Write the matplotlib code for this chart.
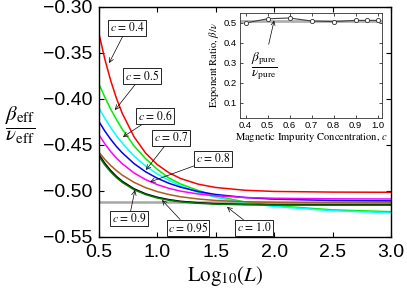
import matplotlib
matplotlib.use("Agg")
import matplotlib.pyplot as plt

plt.rcParams['mathtext.fontset'] = 'stix'
plt.rcParams['font.family'] = 'Liberation Sans'

# effective exponent ratio vs Log10(L) for each concentration c
log_L = [0.5, 0.55, 0.6, 0.65, 0.7, 0.8, 0.9, 1.0, 1.1, 1.2, 1.35, 1.5, 1.75, 2.0, 2.5, 3.0]
ratio_c040 = [-0.3290, -0.3567, -0.3799, -0.3994, -0.4158, -0.4411, -0.4589, -0.4714,
              -0.4803, -0.4865, -0.4926, -0.4962, -0.4992, -0.5005, -0.5012, -0.5014]
ratio_c050 = [-0.3840, -0.3980, -0.4110, -0.4225, -0.4330, -0.4510, -0.4650, -0.4765,
              -0.4860, -0.4925, -0.4995, -0.5055, -0.5120, -0.5160, -0.5205, -0.5225]
ratio_c060 = [-0.4100, -0.4210, -0.4310, -0.4400, -0.4480, -0.4620, -0.4730, -0.4815,
              -0.4885, -0.4945, -0.5015, -0.5070, -0.5130, -0.5168, -0.5215, -0.5236]
ratio_c070 = [-0.4247, -0.4348, -0.4438, -0.4517, -0.4586, -0.4702, -0.4792, -0.4862,
              -0.4917, -0.4959, -0.5006, -0.5038, -0.5071, -0.5089, -0.5103, -0.5107]
ratio_c080 = [-0.4390, -0.4487, -0.4571, -0.4643, -0.4704, -0.4804, -0.4877, -0.4931,
              -0.4972, -0.5002, -0.5033, -0.5052, -0.5071, -0.5079, -0.5085, -0.5087]
ratio_c090 = [-0.4580, -0.4657, -0.4723, -0.4779, -0.4828, -0.4906, -0.4964, -0.5007,
              -0.5039, -0.5063, -0.5087, -0.5103, -0.5117, -0.5124, -0.5129, -0.5130]
ratio_c095 = [-0.4605, -0.4699, -0.4777, -0.4842, -0.4895, -0.4976, -0.5031, -0.5068,
              -0.5094, -0.5112, -0.5128, -0.5138, -0.5145, -0.5148, -0.5150, -0.5150]
ratio_c100 = [-0.4625, -0.4717, -0.4793, -0.4855, -0.4907, -0.4986, -0.5039, -0.5076,
              -0.5101, -0.5118, -0.5134, -0.5143, -0.5150, -0.5153, -0.5155, -0.5155]
pure_ratio = -0.512

# inset: exponent ratio vs concentration
conc = [0.4, 0.5, 0.6, 0.7, 0.8, 0.9, 0.95, 1.0]
ratio_vs_conc = [0.500, 0.521, 0.525, 0.510, 0.507, 0.513, 0.513, 0.513]
pure_ratio_inset = 0.510

curves = [ratio_c040, ratio_c050, ratio_c060, ratio_c070,
          ratio_c080, ratio_c090, ratio_c095, ratio_c100]
colors = ['#ff0000', '#00ee00', '#00ffff', '#0000ff', '#ff00ff', '#b05a1e', '#000000', '#007a00']
c_labels = ['0.4', '0.5', '0.6', '0.7', '0.8', '0.9', '0.95', '1.0']

fig = plt.figure(figsize=(4.07, 2.91), dpi=100)
ax = fig.add_axes([0.2432, 0.1856, 0.7174, 0.7904])

ax.axhline(pure_ratio, color='#a8a8a8', lw=1.8, zorder=1)
for yv, col in zip(curves, colors):
    ax.plot(log_L, yv, color=col, lw=1.1, zorder=2)

ax.set_xlim(0.5, 3.0)
ax.set_ylim(-0.55, -0.30)
ax.set_xticks([0.5, 1.0, 1.5, 2.0, 2.5, 3.0])
ax.set_yticks([-0.55, -0.50, -0.45, -0.40, -0.35, -0.30])
ax.set_xticklabels(['0.5', '1.0', '1.5', '2.0', '2.5', '3.0'])
ax.set_yticklabels(['\u22120.55', '\u22120.50', '\u22120.45', '\u22120.40', '\u22120.35', '\u22120.30'])
ax.tick_params(direction='in', length=3.5, width=0.8, labelsize=14, top=True, right=True, pad=5)
for s in ax.spines.values():
    s.set_linewidth(1.0)

# label boxes: (box centre), (arrow tip)
box_pos = [(0.74, -0.3228), (0.868, -0.375), (0.979, -0.4185), (1.116, -0.4424),
           (1.476, -0.4652), (0.757, -0.5304), (1.262, -0.5402), (1.827, -0.5402)]
tip_pos = [(0.586, -0.361), (0.637, -0.412), (0.705, -0.4413), (0.902, -0.4772),
           (0.937, -0.4902), (0.808, -0.4989), (1.039, -0.5098), (1.596, -0.5174)]
for lab, bp, tp in zip(c_labels, box_pos, tip_pos):
    ax.annotate(r'$c$ = ' + lab, xy=tp, xytext=bp, ha='center', va='center',
                fontsize=8.3, family='STIXGeneral', zorder=5,
                bbox=dict(boxstyle='square,pad=0.12', fc='white', ec='black', lw=0.6),
                arrowprops=dict(arrowstyle='->', lw=0.5, color='black', mutation_scale=8,
                                shrinkA=0, shrinkB=0))

fig.text(20 / 407, 1 - 125 / 291, r'$\dfrac{\beta_{\rm eff}}{\nu_{\rm eff}}$',
         fontsize=15, ha='center', va='center')
fig.text(225 / 407, 1 - 276 / 291, r'Log$_{10}(L)$', fontsize=15,
         family='STIXGeneral', ha='center', va='center')

# inset
ins = fig.add_axes([240 / 407, 1 - 118 / 291, 142 / 407, 105 / 291])
ins.axhline(pure_ratio_inset, color='#b0b0b0', lw=2.0, zorder=1)
ins.plot(conc, ratio_vs_conc, color='#404040', lw=0.8, marker='o', ms=3,
         mfc='white', mec='#303030', mew=0.6, zorder=3)
ins.set_xlim(0.375, 1.02)
ins.set_ylim(0.025, 0.55)
ins.set_xticks([0.4, 0.5, 0.6, 0.7, 0.8, 0.9, 1.0])
ins.set_yticks([0.1, 0.2, 0.3, 0.4, 0.5])
ins.tick_params(direction='in', length=2, width=0.5, labelsize=6.8, top=True, right=True, pad=2)
for s in ins.spines.values():
    s.set_linewidth(0.6)
    s.set_color('#303030')
ins.set_ylabel(r'Exponent Ratio, $\beta/\nu$', fontsize=7.6, family='STIXGeneral', labelpad=2)
ins.set_xlabel(r'Magnetic Impurity Concentration, $c$', fontsize=7.6, family='STIXGeneral', labelpad=1)
ins.annotate(r'$\dfrac{\beta_{\rm pure}}{\nu_{\rm pure}}$', xy=(0.53, 0.512), xytext=(0.483, 0.2865),
             ha='center', va='center', fontsize=9.5,
             arrowprops=dict(arrowstyle='->', lw=0.5, color='black', mutation_scale=7,
                             shrinkA=2, shrinkB=0))

fig.savefig('out.png', dpi=100)
